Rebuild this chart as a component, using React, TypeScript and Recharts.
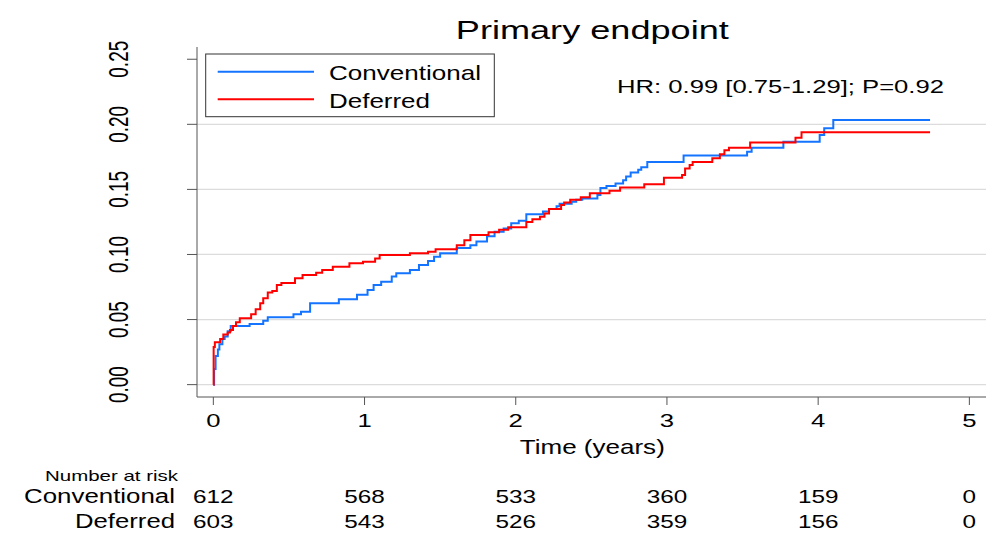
import React from 'react';
import { LineChart, Line, XAxis, YAxis, ReferenceLine } from 'recharts';

const FONT = '"Liberation Sans", Arial, sans-serif';

// Kaplan-Meier cumulative incidence (step after each time)
const conventionalTime = [
  0, 0.005, 0.015, 0.03, 0.04, 0.06, 0.075, 0.095, 0.115, 0.24, 0.33, 0.36, 0.53, 0.58, 0.64,
  0.83, 0.95, 1.02, 1.06, 1.11, 1.18, 1.21, 1.3, 1.36, 1.42, 1.46, 1.5, 1.61, 1.7, 1.74, 1.81,
  1.86, 1.92, 1.97, 2.02, 2.07, 2.18, 2.22, 2.27, 2.29, 2.37, 2.4, 2.44, 2.54, 2.56, 2.6, 2.66,
  2.71, 2.73, 2.76, 2.81, 2.83, 2.87, 3.11, 3.53, 3.56, 3.77, 4.01, 4.04, 4.1, 4.74,
];
const conventionalRisk = [
  0, 0.012, 0.022, 0.027, 0.031, 0.035, 0.037, 0.041, 0.045, 0.0466, 0.049, 0.0517, 0.054, 0.056, 0.0625,
  0.0656, 0.069, 0.0727, 0.0766, 0.079, 0.083, 0.0855, 0.088, 0.092, 0.095, 0.0983, 0.101, 0.105, 0.107, 0.11, 0.114,
  0.1175, 0.12, 0.124, 0.126, 0.131, 0.133, 0.135, 0.137, 0.139, 0.1405, 0.142, 0.143, 0.1456, 0.151, 0.1526, 0.1546,
  0.157, 0.16, 0.163, 0.165, 0.167, 0.171, 0.176, 0.179, 0.182, 0.1867, 0.1918, 0.197, 0.2033, 0.2033,
];

const deferredTime = [
  0, 0.002, 0.01, 0.045, 0.066, 0.095, 0.11, 0.13, 0.15, 0.175, 0.25, 0.28, 0.31, 0.33, 0.36,
  0.39, 0.42, 0.45, 0.54, 0.59, 0.68, 0.72, 0.79, 0.9, 0.99, 1.07, 1.1, 1.3, 1.42, 1.47, 1.61,
  1.66, 1.7, 1.82, 1.89, 1.95, 2.07, 2.11, 2.16, 2.19, 2.22, 2.3, 2.32, 2.36, 2.43, 2.49, 2.62,
  2.69, 2.85, 2.98, 3.1, 3.12, 3.15, 3.17, 3.3, 3.35, 3.38, 3.41, 3.55, 3.85, 3.89, 4.74,
];
const deferredRisk = [
  0, 0.029, 0.0325, 0.035, 0.0385, 0.04, 0.042, 0.045, 0.048, 0.051, 0.054, 0.058, 0.0626, 0.0664, 0.0707,
  0.072, 0.0766, 0.078, 0.0817, 0.0843, 0.086, 0.088, 0.0906, 0.0932, 0.0945, 0.097, 0.0996, 0.101, 0.102, 0.104, 0.107,
  0.111, 0.115, 0.117, 0.119, 0.121, 0.125, 0.127, 0.129, 0.1315, 0.135, 0.138, 0.14, 0.142, 0.144, 0.147, 0.149,
  0.1515, 0.154, 0.159, 0.161, 0.166, 0.1687, 0.171, 0.174, 0.177, 0.18, 0.182, 0.186, 0.1897, 0.194, 0.194,
];

const xTicks = [0, 1, 2, 3, 4, 5];
const yTicks = [0, 0.05, 0.1, 0.15, 0.2, 0.25];
const gridValues = [0, 0.05, 0.1, 0.15, 0.2];

const conventionalAtRisk = [612, 568, 533, 360, 159, 0];
const deferredAtRisk = [603, 543, 526, 359, 156, 0];

const series = [
  { name: 'Conventional', color: '#1474ff', time: conventionalTime, risk: conventionalRisk },
  { name: 'Deferred', color: '#ff0000', time: deferredTime, risk: deferredRisk },
];

const toRows = (time: number[], risk: number[]) => time.map((t, i) => ({ t, v: risk[i] }));

const AXIS_COLOR = '#555';

const SText = ({ x, y, size, len, anchor = 'start', children }: any) => (
  <text
    x={x}
    y={y}
    fontSize={size}
    textLength={len}
    lengthAdjust="spacingAndGlyphs"
    textAnchor={anchor}
    fontFamily={FONT}
    fill="#000"
  >
    {children}
  </text>
);

const YTick = ({ x, y, payload }: any) => (
  <text
    transform={`translate(${x - 57}, ${y}) rotate(-90) scale(1, 1.45)`}
    textAnchor="middle"
    fontSize={19}
    fontFamily={FONT}
    fill="#000"
  >
    {payload.value.toFixed(2)}
  </text>
);

// year label plus the number-at-risk rows under each year
const XTick = ({ x, y, payload }: any) => {
  const i = xTicks.indexOf(payload.value);
  const num = (val: any, dy: number, size: number) => (
    <text
      transform={`translate(${x}, ${y + dy}) scale(1.35, 1)`}
      textAnchor="middle"
      fontSize={size}
      fontFamily={FONT}
      fill="#000"
    >
      {val}
    </text>
  );
  return (
    <g>
      {num(payload.value, 20, 19)}
      {i >= 0 && num(conventionalAtRisk[i], 96, 18)}
      {i >= 0 && num(deferredAtRisk[i], 121, 18)}
    </g>
  );
};

export default function App() {
  return (
    <div style={{ position: 'absolute', left: 0, top: 0, width: 998, height: 545, background: '#fff' }}>
      <LineChart width={998} height={545} margin={{ top: 47, right: 12, left: 137, bottom: 98 }}>
        {gridValues.map((v) => (
          <ReferenceLine key={v} y={v} stroke="#dcdcdc" strokeWidth={1.3} />
        ))}
        <XAxis
          type="number"
          dataKey="t"
          domain={[-0.108, 5.11]}
          allowDataOverflow
          ticks={xTicks}
          interval={0}
          height={50}
          tickSize={8}
          stroke={AXIS_COLOR}
          tick={<XTick />}
        />
        <YAxis
          type="number"
          dataKey="v"
          domain={[-0.0095, 0.2594]}
          allowDataOverflow
          ticks={yTicks}
          interval={0}
          width={60}
          tickSize={10}
          stroke={AXIS_COLOR}
          tick={<YTick />}
        />
        {series.map((s) => (
          <Line
            key={s.name}
            name={s.name}
            data={toRows(s.time, s.risk)}
            dataKey="v"
            type="stepAfter"
            stroke={s.color}
            strokeWidth={2}
            dot={false}
            isAnimationActive={false}
          />
        ))}
      </LineChart>

      <svg
        width={998}
        height={545}
        style={{ position: 'absolute', left: 0, top: 0, pointerEvents: 'none' }}
      >
        <SText x={592.3} y={39} size={26.5} len={273} anchor="middle">Primary endpoint</SText>
        <SText x={617} y={92.7} size={19} len={327}>HR: 0.99 [0.75-1.29]; P=0.92</SText>

        <rect x={205.7} y={54} width={288.6} height={62.7} fill="#fff" stroke="#333" strokeWidth={1} />
        {series.map((s, i) => (
          <g key={s.name}>
            <line x1={217.7} x2={314} y1={71.7 + i * 27.6} y2={71.7 + i * 27.6} stroke={s.color} strokeWidth={2} />
            <SText x={329} y={80 + i * 27.7} size={21} len={i === 0 ? 152 : 101}>{s.name}</SText>
          </g>
        ))}

        <SText x={592.3} y={454.3} size={21} len={145} anchor="middle">Time (years)</SText>
        <SText x={45} y={480.7} size={15} len={133}>Number at risk</SText>
        <SText x={175} y={503.3} size={20} len={151} anchor="end">Conventional</SText>
        <SText x={175} y={528.3} size={20} len={100} anchor="end">Deferred</SText>
      </svg>
    </div>
  );
}
